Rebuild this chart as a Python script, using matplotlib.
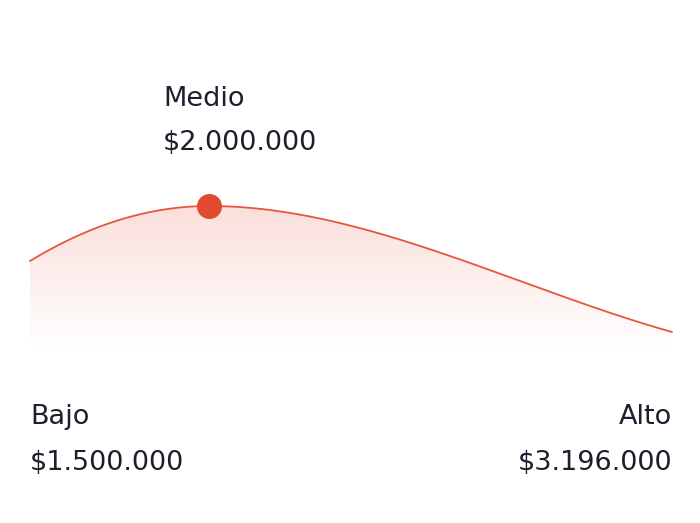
import matplotlib.pyplot as plt
import numpy as np
from matplotlib.colors import to_rgb

# Salary range labels
labels = ['Bajo', 'Medio', 'Alto']
amounts = ['$1.500.000', '$2.000.000', '$3.196.000']
positions = [0.0, 0.279, 1.0]   # relative position along the curve
heights = [89, 144, 18]         # curve height at each label
slopes = [391, 0, -180]         # curve slope at each label

line_color = '#E8553E'
dot_color = '#E04A2F'
text_color = '#1E1E2C'

plt.rcParams['font.family'] = ['DejaVu Sans']


def hermite(xs, ys, ms, n=200):
    # smooth cubic curve through the labelled points
    out_x, out_y = [], []
    for i in range(len(xs) - 1):
        h = xs[i + 1] - xs[i]
        t = np.linspace(0, 1, n, endpoint=False)
        h00 = 2 * t ** 3 - 3 * t ** 2 + 1
        h10 = t ** 3 - 2 * t ** 2 + t
        h01 = -2 * t ** 3 + 3 * t ** 2
        h11 = t ** 3 - t ** 2
        out_x.extend(xs[i] + t * h)
        out_y.extend(h00 * ys[i] + h10 * h * ms[i] + h01 * ys[i + 1] + h11 * h * ms[i + 1])
    out_x.append(xs[-1])
    out_y.append(ys[-1])
    return np.array(out_x), np.array(out_y)


fig = plt.figure(figsize=(7, 5.23), dpi=100)
ax = fig.add_axes([0, 0, 1, 1])
ax.set_xlim(-30 / 642, 670 / 642)
ax.set_ylim(-173, 350)
ax.axis('off')

sx, sy = hermite(positions, heights, slopes)

# Gradient fill under the curve
poly = ax.fill_between(sx, sy, 0, color='none', lw=0)
rgb = to_rgb(line_color)
grad = np.zeros((200, 1, 4))
grad[:, 0, :3] = rgb
grad[:, 0, 3] = np.linspace(0.0, 0.19, 200)
img = ax.imshow(grad, extent=[0, 1, 0, max(heights)], origin='lower', aspect='auto', zorder=1)
img.set_clip_path(poly.get_paths()[0], transform=ax.transData)

ax.plot(sx, sy, color=line_color, lw=1.3, zorder=2, solid_capstyle='round')

# Marker at the middle value
ax.plot([positions[1]], [heights[1]], 'o', color=dot_color, ms=17, zorder=3)

fs = 19.5
mx = positions[1] - 46 / 642
ax.text(mx, 244, labels[1], color=text_color, fontsize=fs, va='baseline', ha='left')
ax.text(mx, 199.5, amounts[1], color=text_color, fontsize=fs, va='baseline', ha='left')
ax.text(positions[0], -74.5, labels[0], color=text_color, fontsize=fs, va='baseline', ha='left')
ax.text(positions[0], -119.5, amounts[0], color=text_color, fontsize=fs, va='baseline', ha='left')
ax.text(positions[2], -74.5, labels[2], color=text_color, fontsize=fs, va='baseline', ha='right')
ax.text(positions[2], -119.5, amounts[2], color=text_color, fontsize=fs, va='baseline', ha='right')

plt.savefig('out.png', dpi=100)
